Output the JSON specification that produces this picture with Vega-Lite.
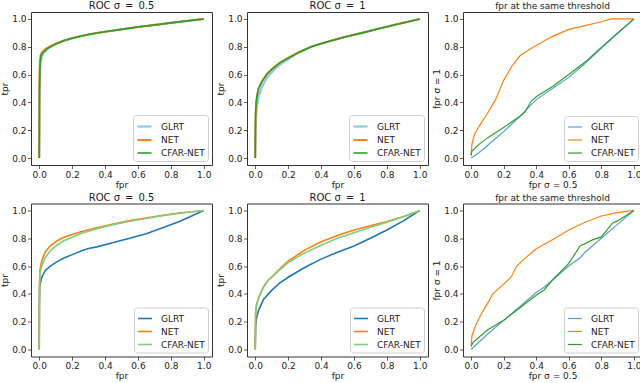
{
  "$schema": "https://vega.github.io/schema/vega-lite/v6.json",
  "padding": 0,
  "background": "white",
  "config": {
    "font": "DejaVu Sans",
    "view": {"stroke": "#333333", "strokeWidth": 1},
    "axis": {"domain": false, "grid": false, "tickColor": "#333333", "tickSize": 3.5, "tickWidth": 0.8, "labelFontSize": 9, "labelColor": "#222222", "labelFont": "DejaVu Sans", "titleFont": "DejaVu Sans", "titleFontSize": 9, "titleFontWeight": "normal", "titleColor": "#222222", "labelFlush": false, "labelOverlap": false},
    "axisX": {"labelPadding": 1.5, "titlePadding": 1},
    "axisY": {"labelPadding": 1.5, "titlePadding": 2},
    "title": {"fontSize": 9, "fontWeight": "normal", "font": "DejaVu Sans", "color": "#222222", "offset": 1, "anchor": "middle"},
    "legend": {"orient": "bottom-right", "offset": 4, "padding": 3, "strokeColor": "#d0d0d0", "fillColor": "#ffffff", "cornerRadius": 3, "symbolType": "stroke", "symbolSize": 196, "labelFontSize": 9, "labelFont": "DejaVu Sans", "labelColor": "#222222", "labelOffset": 8, "rowPadding": -1, "titlePadding": 0}
  },
  "datasets": {
    "p1": [
      {"model": "GLRT", "x": 0, "y": 0}, {"model": "GLRT", "x": 0.002, "y": 0.45}, {"model": "GLRT", "x": 0.004, "y": 0.6}, {"model": "GLRT", "x": 0.008, "y": 0.69}, {"model": "GLRT", "x": 0.015, "y": 0.73}, {"model": "GLRT", "x": 0.03, "y": 0.76}, {"model": "GLRT", "x": 0.06, "y": 0.793}, {"model": "GLRT", "x": 0.1, "y": 0.82}, {"model": "GLRT", "x": 0.15, "y": 0.843}, {"model": "GLRT", "x": 0.2, "y": 0.86}, {"model": "GLRT", "x": 0.25, "y": 0.876}, {"model": "GLRT", "x": 0.3, "y": 0.888}, {"model": "GLRT", "x": 0.35, "y": 0.899}, {"model": "GLRT", "x": 0.4, "y": 0.908}, {"model": "GLRT", "x": 0.5, "y": 0.925}, {"model": "GLRT", "x": 0.6, "y": 0.942}, {"model": "GLRT", "x": 0.7, "y": 0.957}, {"model": "GLRT", "x": 0.8, "y": 0.972}, {"model": "GLRT", "x": 0.9, "y": 0.986}, {"model": "GLRT", "x": 1, "y": 1},
      {"model": "NET", "x": 0, "y": 0}, {"model": "NET", "x": 0.001, "y": 0.55}, {"model": "NET", "x": 0.003, "y": 0.68}, {"model": "NET", "x": 0.006, "y": 0.72}, {"model": "NET", "x": 0.01, "y": 0.745}, {"model": "NET", "x": 0.02, "y": 0.765}, {"model": "NET", "x": 0.04, "y": 0.785}, {"model": "NET", "x": 0.06, "y": 0.8}, {"model": "NET", "x": 0.1, "y": 0.823}, {"model": "NET", "x": 0.15, "y": 0.845}, {"model": "NET", "x": 0.2, "y": 0.862}, {"model": "NET", "x": 0.25, "y": 0.876}, {"model": "NET", "x": 0.3, "y": 0.888}, {"model": "NET", "x": 0.35, "y": 0.899}, {"model": "NET", "x": 0.4, "y": 0.908}, {"model": "NET", "x": 0.5, "y": 0.925}, {"model": "NET", "x": 0.6, "y": 0.942}, {"model": "NET", "x": 0.7, "y": 0.957}, {"model": "NET", "x": 0.8, "y": 0.972}, {"model": "NET", "x": 0.9, "y": 0.986}, {"model": "NET", "x": 1, "y": 1},
      {"model": "CFAR-NET", "x": 0, "y": 0}, {"model": "CFAR-NET", "x": 0.002, "y": 0.5}, {"model": "CFAR-NET", "x": 0.005, "y": 0.66}, {"model": "CFAR-NET", "x": 0.01, "y": 0.73}, {"model": "CFAR-NET", "x": 0.02, "y": 0.755}, {"model": "CFAR-NET", "x": 0.04, "y": 0.778}, {"model": "CFAR-NET", "x": 0.06, "y": 0.795}, {"model": "CFAR-NET", "x": 0.1, "y": 0.82}, {"model": "CFAR-NET", "x": 0.15, "y": 0.843}, {"model": "CFAR-NET", "x": 0.2, "y": 0.861}, {"model": "CFAR-NET", "x": 0.25, "y": 0.876}, {"model": "CFAR-NET", "x": 0.3, "y": 0.888}, {"model": "CFAR-NET", "x": 0.35, "y": 0.899}, {"model": "CFAR-NET", "x": 0.4, "y": 0.908}, {"model": "CFAR-NET", "x": 0.5, "y": 0.925}, {"model": "CFAR-NET", "x": 0.6, "y": 0.942}, {"model": "CFAR-NET", "x": 0.7, "y": 0.957}, {"model": "CFAR-NET", "x": 0.8, "y": 0.972}, {"model": "CFAR-NET", "x": 0.9, "y": 0.986}, {"model": "CFAR-NET", "x": 1, "y": 1}
    ],
    "p2": [
      {"model": "GLRT", "x": 0, "y": 0}, {"model": "GLRT", "x": 0.002, "y": 0.22}, {"model": "GLRT", "x": 0.005, "y": 0.3}, {"model": "GLRT", "x": 0.01, "y": 0.37}, {"model": "GLRT", "x": 0.02, "y": 0.44}, {"model": "GLRT", "x": 0.04, "y": 0.51}, {"model": "GLRT", "x": 0.07, "y": 0.575}, {"model": "GLRT", "x": 0.11, "y": 0.628}, {"model": "GLRT", "x": 0.15, "y": 0.672}, {"model": "GLRT", "x": 0.2, "y": 0.71}, {"model": "GLRT", "x": 0.25, "y": 0.748}, {"model": "GLRT", "x": 0.3, "y": 0.778}, {"model": "GLRT", "x": 0.35, "y": 0.805}, {"model": "GLRT", "x": 0.45, "y": 0.84}, {"model": "GLRT", "x": 0.55, "y": 0.872}, {"model": "GLRT", "x": 0.65, "y": 0.9}, {"model": "GLRT", "x": 0.75, "y": 0.93}, {"model": "GLRT", "x": 0.85, "y": 0.958}, {"model": "GLRT", "x": 1, "y": 1},
      {"model": "NET", "x": 0, "y": 0}, {"model": "NET", "x": 0.002, "y": 0.3}, {"model": "NET", "x": 0.005, "y": 0.38}, {"model": "NET", "x": 0.01, "y": 0.44}, {"model": "NET", "x": 0.02, "y": 0.5}, {"model": "NET", "x": 0.04, "y": 0.55}, {"model": "NET", "x": 0.07, "y": 0.605}, {"model": "NET", "x": 0.11, "y": 0.65}, {"model": "NET", "x": 0.15, "y": 0.687}, {"model": "NET", "x": 0.2, "y": 0.72}, {"model": "NET", "x": 0.25, "y": 0.752}, {"model": "NET", "x": 0.3, "y": 0.78}, {"model": "NET", "x": 0.35, "y": 0.805}, {"model": "NET", "x": 0.45, "y": 0.84}, {"model": "NET", "x": 0.55, "y": 0.872}, {"model": "NET", "x": 0.65, "y": 0.9}, {"model": "NET", "x": 0.75, "y": 0.93}, {"model": "NET", "x": 0.85, "y": 0.958}, {"model": "NET", "x": 1, "y": 1},
      {"model": "CFAR-NET", "x": 0, "y": 0}, {"model": "CFAR-NET", "x": 0.002, "y": 0.32}, {"model": "CFAR-NET", "x": 0.005, "y": 0.39}, {"model": "CFAR-NET", "x": 0.01, "y": 0.445}, {"model": "CFAR-NET", "x": 0.02, "y": 0.5}, {"model": "CFAR-NET", "x": 0.04, "y": 0.548}, {"model": "CFAR-NET", "x": 0.07, "y": 0.6}, {"model": "CFAR-NET", "x": 0.11, "y": 0.647}, {"model": "CFAR-NET", "x": 0.15, "y": 0.684}, {"model": "CFAR-NET", "x": 0.2, "y": 0.718}, {"model": "CFAR-NET", "x": 0.25, "y": 0.751}, {"model": "CFAR-NET", "x": 0.3, "y": 0.779}, {"model": "CFAR-NET", "x": 0.35, "y": 0.804}, {"model": "CFAR-NET", "x": 0.45, "y": 0.84}, {"model": "CFAR-NET", "x": 0.55, "y": 0.872}, {"model": "CFAR-NET", "x": 0.65, "y": 0.9}, {"model": "CFAR-NET", "x": 0.75, "y": 0.93}, {"model": "CFAR-NET", "x": 0.85, "y": 0.958}, {"model": "CFAR-NET", "x": 1, "y": 1}
    ],
    "p3": [
      {"model": "GLRT", "x": 0, "y": 0}, {"model": "GLRT", "x": 0.05, "y": 0.04}, {"model": "GLRT", "x": 0.1, "y": 0.09}, {"model": "GLRT", "x": 0.2, "y": 0.19}, {"model": "GLRT", "x": 0.3, "y": 0.3}, {"model": "GLRT", "x": 0.4, "y": 0.42}, {"model": "GLRT", "x": 0.5, "y": 0.5}, {"model": "GLRT", "x": 0.6, "y": 0.58}, {"model": "GLRT", "x": 0.7, "y": 0.68}, {"model": "GLRT", "x": 0.8, "y": 0.79}, {"model": "GLRT", "x": 0.9, "y": 0.895}, {"model": "GLRT", "x": 1, "y": 1},
      {"model": "NET", "x": 0, "y": 0.02}, {"model": "NET", "x": 0.005, "y": 0.1}, {"model": "NET", "x": 0.02, "y": 0.17}, {"model": "NET", "x": 0.05, "y": 0.23}, {"model": "NET", "x": 0.1, "y": 0.32}, {"model": "NET", "x": 0.15, "y": 0.42}, {"model": "NET", "x": 0.2, "y": 0.56}, {"model": "NET", "x": 0.25, "y": 0.66}, {"model": "NET", "x": 0.3, "y": 0.735}, {"model": "NET", "x": 0.385, "y": 0.8}, {"model": "NET", "x": 0.5, "y": 0.875}, {"model": "NET", "x": 0.6, "y": 0.925}, {"model": "NET", "x": 0.7, "y": 0.952}, {"model": "NET", "x": 0.8, "y": 0.98}, {"model": "NET", "x": 0.86, "y": 1}, {"model": "NET", "x": 1, "y": 1},
      {"model": "CFAR-NET", "x": 0, "y": 0.02}, {"model": "CFAR-NET", "x": 0.005, "y": 0.05}, {"model": "CFAR-NET", "x": 0.05, "y": 0.1}, {"model": "CFAR-NET", "x": 0.1, "y": 0.145}, {"model": "CFAR-NET", "x": 0.2, "y": 0.22}, {"model": "CFAR-NET", "x": 0.3, "y": 0.3}, {"model": "CFAR-NET", "x": 0.33, "y": 0.33}, {"model": "CFAR-NET", "x": 0.37, "y": 0.41}, {"model": "CFAR-NET", "x": 0.4, "y": 0.44}, {"model": "CFAR-NET", "x": 0.5, "y": 0.515}, {"model": "CFAR-NET", "x": 0.6, "y": 0.6}, {"model": "CFAR-NET", "x": 0.7, "y": 0.69}, {"model": "CFAR-NET", "x": 0.8, "y": 0.795}, {"model": "CFAR-NET", "x": 0.9, "y": 0.9}, {"model": "CFAR-NET", "x": 1, "y": 1}
    ],
    "p4": [
      {"model": "GLRT", "x": 0, "y": 0}, {"model": "GLRT", "x": 0.001, "y": 0.3}, {"model": "GLRT", "x": 0.003, "y": 0.46}, {"model": "GLRT", "x": 0.016, "y": 0.52}, {"model": "GLRT", "x": 0.036, "y": 0.567}, {"model": "GLRT", "x": 0.067, "y": 0.6}, {"model": "GLRT", "x": 0.107, "y": 0.63}, {"model": "GLRT", "x": 0.147, "y": 0.656}, {"model": "GLRT", "x": 0.208, "y": 0.686}, {"model": "GLRT", "x": 0.27, "y": 0.715}, {"model": "GLRT", "x": 0.3, "y": 0.726}, {"model": "GLRT", "x": 0.35, "y": 0.738}, {"model": "GLRT", "x": 0.45, "y": 0.77}, {"model": "GLRT", "x": 0.55, "y": 0.8}, {"model": "GLRT", "x": 0.65, "y": 0.833}, {"model": "GLRT", "x": 0.75, "y": 0.875}, {"model": "GLRT", "x": 0.855, "y": 0.922}, {"model": "GLRT", "x": 1, "y": 1},
      {"model": "NET", "x": 0, "y": 0}, {"model": "NET", "x": 0.001, "y": 0.45}, {"model": "NET", "x": 0.004, "y": 0.57}, {"model": "NET", "x": 0.016, "y": 0.64}, {"model": "NET", "x": 0.036, "y": 0.7}, {"model": "NET", "x": 0.067, "y": 0.746}, {"model": "NET", "x": 0.107, "y": 0.78}, {"model": "NET", "x": 0.147, "y": 0.805}, {"model": "NET", "x": 0.2, "y": 0.827}, {"model": "NET", "x": 0.248, "y": 0.845}, {"model": "NET", "x": 0.35, "y": 0.875}, {"model": "NET", "x": 0.45, "y": 0.903}, {"model": "NET", "x": 0.55, "y": 0.927}, {"model": "NET", "x": 0.65, "y": 0.946}, {"model": "NET", "x": 0.75, "y": 0.965}, {"model": "NET", "x": 0.85, "y": 0.982}, {"model": "NET", "x": 1, "y": 1},
      {"model": "CFAR-NET", "x": 0, "y": 0}, {"model": "CFAR-NET", "x": 0.001, "y": 0.4}, {"model": "CFAR-NET", "x": 0.004, "y": 0.54}, {"model": "CFAR-NET", "x": 0.016, "y": 0.605}, {"model": "CFAR-NET", "x": 0.036, "y": 0.66}, {"model": "CFAR-NET", "x": 0.067, "y": 0.71}, {"model": "CFAR-NET", "x": 0.107, "y": 0.75}, {"model": "CFAR-NET", "x": 0.147, "y": 0.78}, {"model": "CFAR-NET", "x": 0.2, "y": 0.808}, {"model": "CFAR-NET", "x": 0.248, "y": 0.833}, {"model": "CFAR-NET", "x": 0.35, "y": 0.868}, {"model": "CFAR-NET", "x": 0.45, "y": 0.898}, {"model": "CFAR-NET", "x": 0.55, "y": 0.922}, {"model": "CFAR-NET", "x": 0.65, "y": 0.942}, {"model": "CFAR-NET", "x": 0.75, "y": 0.962}, {"model": "CFAR-NET", "x": 0.85, "y": 0.98}, {"model": "CFAR-NET", "x": 1, "y": 1}
    ],
    "p5": [
      {"model": "GLRT", "x": 0, "y": 0}, {"model": "GLRT", "x": 0.002, "y": 0.15}, {"model": "GLRT", "x": 0.005, "y": 0.2}, {"model": "GLRT", "x": 0.01, "y": 0.24}, {"model": "GLRT", "x": 0.02, "y": 0.28}, {"model": "GLRT", "x": 0.05, "y": 0.36}, {"model": "GLRT", "x": 0.1, "y": 0.425}, {"model": "GLRT", "x": 0.15, "y": 0.48}, {"model": "GLRT", "x": 0.2, "y": 0.52}, {"model": "GLRT", "x": 0.3, "y": 0.59}, {"model": "GLRT", "x": 0.4, "y": 0.65}, {"model": "GLRT", "x": 0.5, "y": 0.7}, {"model": "GLRT", "x": 0.6, "y": 0.745}, {"model": "GLRT", "x": 0.7, "y": 0.8}, {"model": "GLRT", "x": 0.8, "y": 0.86}, {"model": "GLRT", "x": 0.9, "y": 0.925}, {"model": "GLRT", "x": 1, "y": 1},
      {"model": "NET", "x": 0, "y": 0}, {"model": "NET", "x": 0.002, "y": 0.25}, {"model": "NET", "x": 0.005, "y": 0.3}, {"model": "NET", "x": 0.01, "y": 0.33}, {"model": "NET", "x": 0.02, "y": 0.37}, {"model": "NET", "x": 0.05, "y": 0.45}, {"model": "NET", "x": 0.08, "y": 0.5}, {"model": "NET", "x": 0.1, "y": 0.52}, {"model": "NET", "x": 0.15, "y": 0.58}, {"model": "NET", "x": 0.2, "y": 0.635}, {"model": "NET", "x": 0.3, "y": 0.715}, {"model": "NET", "x": 0.4, "y": 0.775}, {"model": "NET", "x": 0.5, "y": 0.82}, {"model": "NET", "x": 0.6, "y": 0.86}, {"model": "NET", "x": 0.7, "y": 0.89}, {"model": "NET", "x": 0.8, "y": 0.92}, {"model": "NET", "x": 0.9, "y": 0.955}, {"model": "NET", "x": 1, "y": 1},
      {"model": "CFAR-NET", "x": 0, "y": 0}, {"model": "CFAR-NET", "x": 0.002, "y": 0.25}, {"model": "CFAR-NET", "x": 0.005, "y": 0.3}, {"model": "CFAR-NET", "x": 0.01, "y": 0.33}, {"model": "CFAR-NET", "x": 0.02, "y": 0.37}, {"model": "CFAR-NET", "x": 0.05, "y": 0.45}, {"model": "CFAR-NET", "x": 0.08, "y": 0.5}, {"model": "CFAR-NET", "x": 0.1, "y": 0.52}, {"model": "CFAR-NET", "x": 0.15, "y": 0.575}, {"model": "CFAR-NET", "x": 0.2, "y": 0.625}, {"model": "CFAR-NET", "x": 0.3, "y": 0.695}, {"model": "CFAR-NET", "x": 0.4, "y": 0.75}, {"model": "CFAR-NET", "x": 0.5, "y": 0.8}, {"model": "CFAR-NET", "x": 0.6, "y": 0.84}, {"model": "CFAR-NET", "x": 0.7, "y": 0.88}, {"model": "CFAR-NET", "x": 0.8, "y": 0.915}, {"model": "CFAR-NET", "x": 0.9, "y": 0.955}, {"model": "CFAR-NET", "x": 1, "y": 1}
    ],
    "p6": [
      {"model": "GLRT", "x": 0, "y": 0}, {"model": "GLRT", "x": 0.1, "y": 0.11}, {"model": "GLRT", "x": 0.2, "y": 0.21}, {"model": "GLRT", "x": 0.3, "y": 0.31}, {"model": "GLRT", "x": 0.4, "y": 0.41}, {"model": "GLRT", "x": 0.45, "y": 0.45}, {"model": "GLRT", "x": 0.5, "y": 0.5}, {"model": "GLRT", "x": 0.6, "y": 0.6}, {"model": "GLRT", "x": 0.67, "y": 0.66}, {"model": "GLRT", "x": 0.7, "y": 0.7}, {"model": "GLRT", "x": 0.8, "y": 0.8}, {"model": "GLRT", "x": 0.9, "y": 0.9}, {"model": "GLRT", "x": 1, "y": 1},
      {"model": "NET", "x": 0, "y": 0.03}, {"model": "NET", "x": 0.005, "y": 0.1}, {"model": "NET", "x": 0.03, "y": 0.18}, {"model": "NET", "x": 0.06, "y": 0.25}, {"model": "NET", "x": 0.1, "y": 0.33}, {"model": "NET", "x": 0.133, "y": 0.4}, {"model": "NET", "x": 0.2, "y": 0.47}, {"model": "NET", "x": 0.245, "y": 0.52}, {"model": "NET", "x": 0.28, "y": 0.6}, {"model": "NET", "x": 0.32, "y": 0.645}, {"model": "NET", "x": 0.4, "y": 0.725}, {"model": "NET", "x": 0.5, "y": 0.79}, {"model": "NET", "x": 0.6, "y": 0.86}, {"model": "NET", "x": 0.7, "y": 0.915}, {"model": "NET", "x": 0.8, "y": 0.96}, {"model": "NET", "x": 0.9, "y": 0.985}, {"model": "NET", "x": 1, "y": 1},
      {"model": "CFAR-NET", "x": 0, "y": 0.02}, {"model": "CFAR-NET", "x": 0.01, "y": 0.05}, {"model": "CFAR-NET", "x": 0.1, "y": 0.14}, {"model": "CFAR-NET", "x": 0.2, "y": 0.21}, {"model": "CFAR-NET", "x": 0.3, "y": 0.3}, {"model": "CFAR-NET", "x": 0.4, "y": 0.39}, {"model": "CFAR-NET", "x": 0.45, "y": 0.43}, {"model": "CFAR-NET", "x": 0.5, "y": 0.5}, {"model": "CFAR-NET", "x": 0.6, "y": 0.62}, {"model": "CFAR-NET", "x": 0.67, "y": 0.745}, {"model": "CFAR-NET", "x": 0.75, "y": 0.79}, {"model": "CFAR-NET", "x": 0.8, "y": 0.81}, {"model": "CFAR-NET", "x": 0.87, "y": 0.91}, {"model": "CFAR-NET", "x": 0.9, "y": 0.925}, {"model": "CFAR-NET", "x": 1, "y": 1}
    ]
  },
  "spacing": 1.5,
  "resolve": {"scale": {"color": "independent", "strokeWidth": "independent"}, "legend": {"color": "independent", "strokeWidth": "independent"}},
  "vconcat": [
    {
      "spacing": 3,
      "resolve": {"scale": {"color": "independent", "strokeWidth": "independent"}, "legend": {"color": "independent", "strokeWidth": "independent"}},
      "hconcat": [
        {
          "width": 181, "height": 153, "title": {"text": "ROC σ\u2002=\u20020.5", "fontSize": 10},
          "data": {"name": "p1"},
          "mark": {"type": "line"},
          "encoding": {
            "x": {"field": "x", "type": "quantitative", "scale": {"domain": [-0.05, 1.05], "nice": false, "zero": false}, "axis": {"title": "fpr", "values": [0, 0.2, 0.4, 0.6, 0.8, 1], "format": ".1f"}},
            "y": {"field": "y", "type": "quantitative", "scale": {"domain": [-0.05, 1.05], "nice": false, "zero": false}, "axis": {"title": "tpr", "values": [0, 0.2, 0.4, 0.6, 0.8, 1], "format": ".1f"}},
            "color": {"field": "model", "type": "nominal", "scale": {"domain": ["GLRT", "NET", "CFAR-NET"], "range": ["#94c4e6", "#ff7f0e", "#2ca02c"]}, "legend": {"title": null}},
            "strokeWidth": {"field": "model", "type": "nominal", "scale": {"domain": ["GLRT", "NET", "CFAR-NET"], "range": [2.2, 1.6, 2.2]}, "legend": {"title": null}}
          }
        },
        {
          "width": 181, "height": 153, "title": {"text": "ROC σ\u2002=\u20021", "fontSize": 10},
          "data": {"name": "p2"},
          "mark": {"type": "line"},
          "encoding": {
            "x": {"field": "x", "type": "quantitative", "scale": {"domain": [-0.05, 1.05], "nice": false, "zero": false}, "axis": {"title": "fpr", "values": [0, 0.2, 0.4, 0.6, 0.8, 1], "format": ".1f"}},
            "y": {"field": "y", "type": "quantitative", "scale": {"domain": [-0.05, 1.05], "nice": false, "zero": false}, "axis": {"title": "tpr", "values": [0, 0.2, 0.4, 0.6, 0.8, 1], "format": ".1f"}},
            "color": {"field": "model", "type": "nominal", "scale": {"domain": ["GLRT", "NET", "CFAR-NET"], "range": ["#94c4e6", "#ff7f0e", "#2ca02c"]}, "legend": {"title": null}},
            "strokeWidth": {"field": "model", "type": "nominal", "scale": {"domain": ["GLRT", "NET", "CFAR-NET"], "range": [2.2, 1.6, 2.2]}, "legend": {"title": null}}
          }
        },
        {
          "width": 179, "height": 153, "title": "fpr at the same threshold",
          "data": {"name": "p3"},
          "mark": {"type": "line"},
          "encoding": {
            "x": {"field": "x", "type": "quantitative", "scale": {"domain": [-0.05, 1.05], "nice": false, "zero": false}, "axis": {"title": "fpr σ = 0.5", "values": [0, 0.2, 0.4, 0.6, 0.8, 1], "format": ".1f"}},
            "y": {"field": "y", "type": "quantitative", "scale": {"domain": [-0.05, 1.05], "nice": false, "zero": false}, "axis": {"title": "fpr σ = 1", "values": [0, 0.2, 0.4, 0.6, 0.8, 1], "format": ".1f"}},
            "color": {"field": "model", "type": "nominal", "scale": {"domain": ["GLRT", "NET", "CFAR-NET"], "range": ["#5b9bd5", "#ff7f0e", "#2ca02c"]}, "legend": {"title": null}},
            "strokeWidth": {"field": "model", "type": "nominal", "scale": {"domain": ["GLRT", "NET", "CFAR-NET"], "range": [1.2, 1.2, 1.2]}, "legend": {"title": null}}
          }
        }
      ]
    },
    {
      "spacing": 3,
      "resolve": {"scale": {"color": "independent", "strokeWidth": "independent"}, "legend": {"color": "independent", "strokeWidth": "independent"}},
      "hconcat": [
        {
          "width": 181, "height": 153, "title": {"text": "ROC σ\u2002=\u20020.5", "fontSize": 10},
          "data": {"name": "p4"},
          "mark": {"type": "line"},
          "encoding": {
            "x": {"field": "x", "type": "quantitative", "scale": {"domain": [-0.05, 1.05], "nice": false, "zero": false}, "axis": {"title": "fpr", "values": [0, 0.2, 0.4, 0.6, 0.8, 1], "format": ".1f"}},
            "y": {"field": "y", "type": "quantitative", "scale": {"domain": [-0.05, 1.05], "nice": false, "zero": false}, "axis": {"title": "tpr", "values": [0, 0.2, 0.4, 0.6, 0.8, 1], "format": ".1f"}},
            "color": {"field": "model", "type": "nominal", "scale": {"domain": ["GLRT", "NET", "CFAR-NET"], "range": ["#1f77b4", "#ff7f0e", "#7dcf7d"]}, "legend": {"title": null}},
            "strokeWidth": {"field": "model", "type": "nominal", "scale": {"domain": ["GLRT", "NET", "CFAR-NET"], "range": [1.6, 1.6, 1.3]}, "legend": {"title": null}}
          }
        },
        {
          "width": 181, "height": 153, "title": {"text": "ROC σ\u2002=\u20021", "fontSize": 10},
          "data": {"name": "p5"},
          "mark": {"type": "line"},
          "encoding": {
            "x": {"field": "x", "type": "quantitative", "scale": {"domain": [-0.05, 1.05], "nice": false, "zero": false}, "axis": {"title": "fpr", "values": [0, 0.2, 0.4, 0.6, 0.8, 1], "format": ".1f"}},
            "y": {"field": "y", "type": "quantitative", "scale": {"domain": [-0.05, 1.05], "nice": false, "zero": false}, "axis": {"title": "tpr", "values": [0, 0.2, 0.4, 0.6, 0.8, 1], "format": ".1f"}},
            "color": {"field": "model", "type": "nominal", "scale": {"domain": ["GLRT", "NET", "CFAR-NET"], "range": ["#1f77b4", "#ff7f0e", "#7dcf7d"]}, "legend": {"title": null}},
            "strokeWidth": {"field": "model", "type": "nominal", "scale": {"domain": ["GLRT", "NET", "CFAR-NET"], "range": [1.6, 1.6, 1.3]}, "legend": {"title": null}}
          }
        },
        {
          "width": 179, "height": 153, "title": "fpr at the same threshold",
          "data": {"name": "p6"},
          "mark": {"type": "line"},
          "encoding": {
            "x": {"field": "x", "type": "quantitative", "scale": {"domain": [-0.05, 1.05], "nice": false, "zero": false}, "axis": {"title": "fpr σ = 0.5", "values": [0, 0.2, 0.4, 0.6, 0.8, 1], "format": ".1f"}},
            "y": {"field": "y", "type": "quantitative", "scale": {"domain": [-0.05, 1.05], "nice": false, "zero": false}, "axis": {"title": "fpr σ = 1", "values": [0, 0.2, 0.4, 0.6, 0.8, 1], "format": ".1f"}},
            "color": {"field": "model", "type": "nominal", "scale": {"domain": ["GLRT", "NET", "CFAR-NET"], "range": ["#5b9bd5", "#ff7f0e", "#2ca02c"]}, "legend": {"title": null}},
            "strokeWidth": {"field": "model", "type": "nominal", "scale": {"domain": ["GLRT", "NET", "CFAR-NET"], "range": [1.2, 1.2, 1.2]}, "legend": {"title": null}}
          }
        }
      ]
    }
  ]
}
